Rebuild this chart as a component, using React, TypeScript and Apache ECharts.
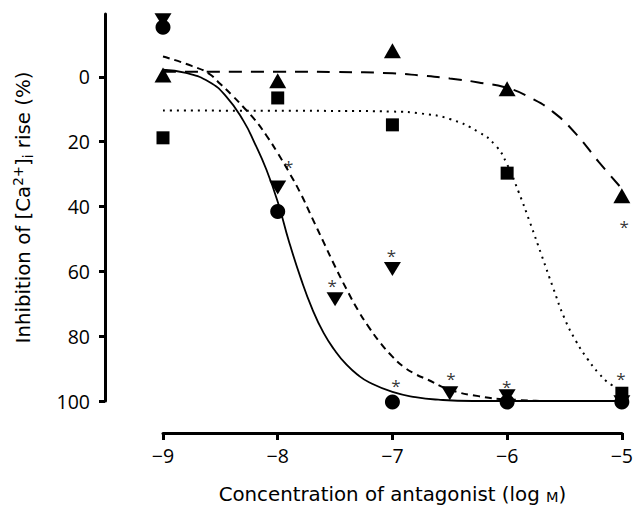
import React, { useEffect, useRef } from "react";
import * as echarts from "echarts";

const xTicks = [-9, -8, -7, -6, -5];
const yTicks = [0, 20, 40, 60, 80, 100];

// markers
const circleX = [-9, -8, -7, -6, -5];
const circleY = [-15.3, 41.5, 100.3, 100.3, 100.3];
const downX = [-9, -8, -7.5, -7, -6.5, -6, -5];
const downY = [-17.5, 34.1, 68.6, 59.3, 97.6, 98.5, 100.4];
const upX = [-9, -8, -7, -6, -5];
const upY = [-0.6, 1.2, -8.1, 3.7, 36.7];
const squareX = [-9, -8, -7, -6, -5];
const squareY = [18.8, 6.5, 14.8, 29.7, 97.6];

// fitted curves
const solidX = [-9, -8.8, -8.6, -8.45, -8.3, -8.2, -8.1, -8.0, -7.9, -7.8, -7.7, -7.6, -7.5, -7.4, -7.3, -7.2, -7.0, -6.8, -6.6, -6.3, -6, -5.5, -5];
const solidY = [-2.2, -1.2, 1.5, 6, 13.5, 20.5, 28.5, 38.5, 51, 62, 71.5, 79, 84.5, 88.8, 92, 94.3, 97.2, 98.8, 99.6, 100, 100, 100, 100];
const shortDashX = [-9, -8.75, -8.6, -8.5, -8.4, -8.3, -8.2, -8.1, -8.0, -7.9, -7.8, -7.7, -7.6, -7.5, -7.4, -7.3, -7.2, -7.1, -7.0, -6.9, -6.8, -6.7, -6.5, -6.25, -6, -5.5, -5];
const shortDashY = [-6.3, -3.4, -1, 2.2, 5.6, 9.3, 13.2, 18, 23.5, 29.5, 36, 43.5, 51, 58.5, 65.5, 72, 77.5, 82.3, 86.3, 89.5, 91.7, 93.3, 96.5, 98.5, 99.5, 100, 100];
const longDashX = [-9, -8, -7.5, -7, -6.75, -6.5, -6.25, -6, -5.8, -5.6, -5.4, -5.2, -5];
const longDashY = [-1.6, -1.6, -1.5, -1.1, -0.4, 0.5, 1.7, 3.4, 6.4, 10.8, 17.6, 26.3, 34.5];
const dotX = [-9, -7.5, -7, -6.75, -6.5, -6.25, -6.1, -6.0, -5.9, -5.8, -5.7, -5.6, -5.5, -5.4, -5.3, -5.2, -5.1, -5.0];
const dotY = [10.4, 10.5, 10.7, 11.3, 13, 17, 21.2, 27, 35.5, 45, 55, 65, 74.5, 81.5, 87, 91.5, 94.8, 96.5];

// significance asterisks
const sigX = [-7.905, -7.526, -7.009, -6.97, -6.491, -6.003, -5.009, -4.98];
const sigY = [26.5, 63.2, 53.9, 94, 91.7, 94.2, 91.7, 45];

const FONT = "Open Sans";
const NAME_FONT = "DejaVu Sans";

const zip = (xs: number[], ys: number[]) => xs.map((x, i) => [x, ys[i]]);

export default function App() {
  const ref = useRef<HTMLDivElement>(null);
  useEffect(() => {
    if (!ref.current) return;
    const chart = echarts.init(ref.current, null, { renderer: "svg" });
    const black = "#000";
    const lineSeries = (xs: number[], ys: number[], type: any, width: number) => ({
      type: "line",
      data: zip(xs, ys),
      symbol: "none",
      showSymbol: false,
      smooth: 0.5,
      clip: false,
      silent: true,
      lineStyle: { color: black, width, type },
      z: 2,
    });
    const markerSeries = (xs: number[], ys: number[], symbol: string, size: any, rotate = 0) => ({
      type: "scatter",
      data: zip(xs, ys),
      symbol,
      symbolSize: size,
      symbolRotate: rotate,
      clip: false,
      silent: true,
      itemStyle: { color: black, opacity: 1 },
      z: 3,
    });
    const option: any = {
      animation: false,
      backgroundColor: "#fff",
      grid: { left: 163, right: 9, top: 14, bottom: 108, containLabel: false },
      xAxis: {
        type: "value",
        min: -9,
        max: -5,
        interval: 1,
        offset: 32,
        axisLine: { onZero: false, lineStyle: { color: black, width: 3 } },
        axisTick: { length: 7, lineStyle: { color: black, width: 3 } },
        axisLabel: {
          customValues: xTicks,
          formatter: (v: number) => "\u2212" + Math.abs(v),
          fontSize: 19.5,
          fontFamily: FONT,
          color: black,
          margin: 12,
        },
        splitLine: { show: false },
        name: "{b|Concentration of antagonist (log }{sc|M}{b|)}",
        nameLocation: "middle",
        nameGap: 47,
        nameTextStyle: {
          fontFamily: NAME_FONT,
          color: black,
          rich: {
            b: { fontSize: 19.8, fontFamily: NAME_FONT, color: black, verticalAlign: "bottom", lineHeight: 24 },
            sc: { fontSize: 14.5, fontFamily: NAME_FONT, color: black, verticalAlign: "bottom", lineHeight: 21 },
          },
        },
      },
      yAxis: {
        type: "value",
        inverse: true,
        min: -19.4,
        max: 100,
        offset: 58,
        axisLine: { onZero: false, lineStyle: { color: black, width: 3 } },
        axisTick: { customValues: yTicks, length: 6, lineStyle: { color: black, width: 3 } },
        axisLabel: {
          customValues: yTicks,
          fontSize: 19.5,
          fontFamily: FONT,
          color: black,
          margin: 15,
        },
        splitLine: { show: false },
        name: "{b|Inhibition of [Ca}{sup|2+}{b|]}{sub|i}{b| rise (%)}",
        nameLocation: "middle",
        nameRotate: 90,
        nameGap: 70,
        nameTextStyle: {
          fontFamily: NAME_FONT,
          color: black,
          rich: {
            b: { fontSize: 19.8, fontFamily: NAME_FONT, color: black, verticalAlign: "middle", lineHeight: 24 },
            sup: { fontSize: 13.5, fontFamily: NAME_FONT, color: black, verticalAlign: "top", lineHeight: 15 },
            sub: { fontSize: 13.5, fontFamily: NAME_FONT, color: black, verticalAlign: "bottom", lineHeight: 13 },
          },
        },
      },
      series: [
        lineSeries(solidX, solidY, "solid", 1.8),
        lineSeries(shortDashX, shortDashY, [7, 5], 2),
        lineSeries(longDashX, longDashY, [13, 9], 2),
        lineSeries(dotX, dotY, [2, 5], 2),
        markerSeries(squareX, squareY, "rect", [13, 13]),
        markerSeries(upX, upY, "triangle", [17, 15]),
        markerSeries(circleX, circleY, "circle", 15),
        markerSeries(downX, downY, "triangle", [17, 14], 180),
        {
          type: "scatter",
          data: zip(sigX, sigY),
          symbol: "circle",
          symbolSize: 1,
          clip: false,
          silent: true,
          z: 4,
          itemStyle: { color: "rgba(0,0,0,0)" },
          label: {
            show: true,
            position: "inside",
            formatter: "*",
            color: black,
            fontSize: 17,
            fontFamily: FONT,
            offset: [0, 4],
          },
        },
      ],
    };
    chart.setOption(option);
    return () => chart.dispose();
  }, []);
  return <div ref={ref} style={{ position: "fixed", left: 0, top: 0, width: 636, height: 509, background: "#fff" }} />;
}
